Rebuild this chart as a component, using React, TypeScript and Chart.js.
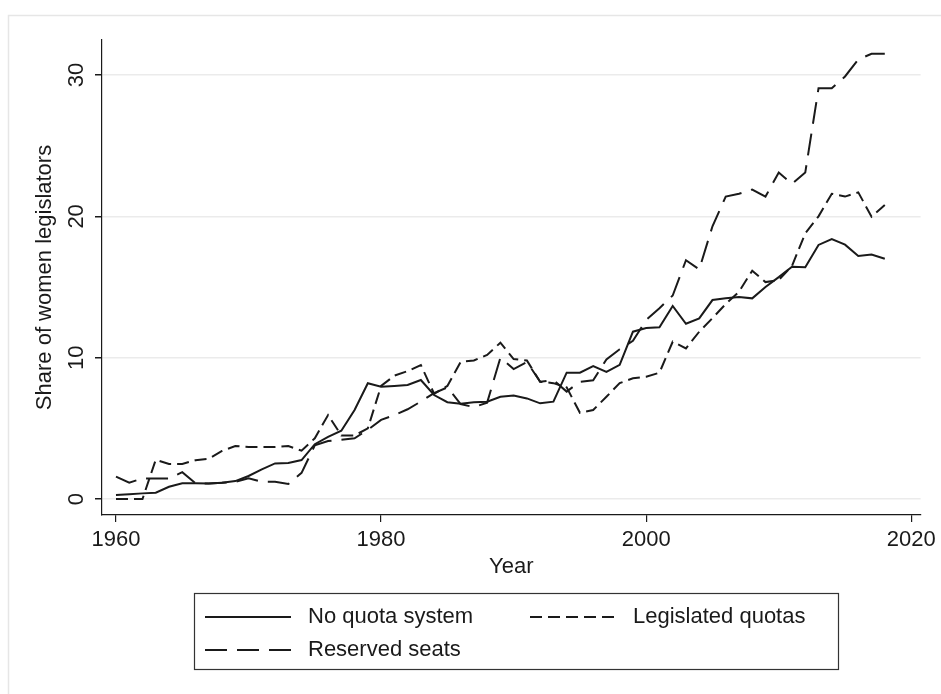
import React, { useEffect, useRef } from "react";
import { Chart, registerables } from "chart.js";

Chart.register(...registerables);

// Year of observation
const years = [
  1960, 1961, 1962, 1963, 1964, 1965, 1966, 1967, 1968, 1969,
  1970, 1971, 1972, 1973, 1974, 1975, 1976, 1977, 1978, 1979,
  1980, 1981, 1982, 1983, 1984, 1985, 1986, 1987, 1988, 1989,
  1990, 1991, 1992, 1993, 1994, 1995, 1996, 1997, 1998, 1999,
  2000, 2001, 2002, 2003, 2004, 2005, 2006, 2007, 2008, 2009,
  2010, 2011, 2012, 2013, 2014, 2015, 2016, 2017, 2018,
];

// Average share of women legislators (%) by quota regime
const noQuota = [
  0.28, 0.33, 0.4, 0.45, 0.87, 1.12, 1.12, 1.1, 1.15, 1.27,
  1.63, 2.1, 2.52, 2.55, 2.76, 3.88, 4.4, 4.83, 6.3, 8.19,
  7.95, 8.0, 8.07, 8.42, 7.36, 6.85, 6.75, 6.84, 6.88, 7.24,
  7.33, 7.12, 6.77, 6.89, 8.94, 8.94, 9.41, 9.0, 9.5, 11.84,
  12.1, 12.15, 13.66, 12.4, 12.78, 14.08, 14.2, 14.3, 14.2, 15.0,
  15.7, 16.44, 16.4, 17.98, 18.4, 18.0, 17.2, 17.3, 17.0,
];

const legislated = [
  0, 0, 0, 2.78, 2.48, 2.48, 2.75, 2.85, 3.4, 3.75,
  3.68, 3.68, 3.68, 3.75, 3.42, 4.3, 5.94, 4.5, 4.5, 5.0,
  8.0, 8.73, 9.05, 9.48, 7.45, 8.0, 9.7, 9.8, 10.2, 11.06,
  9.9, 9.8, 8.3, 8.2, 7.9, 6.1, 6.3, 7.24, 8.2, 8.54,
  8.65, 8.94, 11.13, 10.66, 11.84, 12.8, 13.8, 14.67, 16.16, 15.35,
  15.5, 16.5, 18.8, 20.0, 21.6, 21.4, 21.7, 19.98, 20.8,
];

const reserved = [
  1.58, 1.16, 1.46, 1.46, 1.46, 1.9, 1.12, 1.1, 1.15, 1.22,
  1.46, 1.23, 1.23, 1.06, 1.85, 3.8, 4.1, 4.2, 4.3, 4.9,
  5.6, 5.94, 6.35, 6.9, 7.5, 7.9, 6.72, 6.5, 6.82, 10.0,
  9.2, 9.7, 8.3, 8.42, 7.6, 8.3, 8.4, 9.88, 10.6, 11.2,
  12.67, 13.5, 14.4, 16.9, 16.25, 19.3, 21.4, 21.6, 21.9, 21.4,
  23.1, 22.3, 23.1, 29.06, 29.06, 29.9, 31.1, 31.5, 31.5,
];

const seriesLabels = ["No quota system", "Legislated quotas", "Reserved seats"];
const xTickValues = [1960, 1980, 2000, 2020];
const yTickValues = [0, 10, 20, 30];
const xTitle = "Year";
const yTitle = "Share of women legislators";

const FONT = "'Liberation Sans', Arial, Helvetica, sans-serif";
const FONT_SIZE = 22;
const INK = "#1a1a1a";
const GRID = "#ebebeb";

export default function App() {
  const canvasRef = useRef<HTMLCanvasElement>(null);

  useEffect(() => {
    document.body.style.margin = "0";
    const canvas = canvasRef.current;
    if (!canvas) return;

    const points = (vals: number[]) => years.map((x, i) => ({ x, y: vals[i] }));

    // white page with a faint outer frame
    const framePlugin = {
      id: "frame",
      beforeDraw(chart: any) {
        const { ctx, width, height } = chart;
        ctx.save();
        ctx.fillStyle = "#ffffff";
        ctx.fillRect(0, 0, width, height);
        ctx.strokeStyle = "#e6e6e6";
        ctx.lineWidth = 1.5;
        ctx.strokeRect(8.5, 15.5, width + 20, height + 20);
        ctx.restore();
      },
    };

    // rotated y tick labels, axis titles and the boxed legend
    const decorPlugin = {
      id: "decor",
      afterDraw(chart: any) {
        const { ctx, chartArea } = chart;
        const yScale = chart.scales.y;
        ctx.save();
        ctx.fillStyle = INK;
        ctx.font = `${FONT_SIZE}px ${FONT}`;
        ctx.textAlign = "center";
        ctx.textBaseline = "middle";

        for (const v of yTickValues) {
          const py = yScale.getPixelForValue(v);
          ctx.save();
          ctx.translate(chartArea.left - 25, py);
          ctx.rotate(-Math.PI / 2);
          ctx.fillText(String(v), 0, 0);
          ctx.restore();
        }

        ctx.save();
        ctx.translate(45, (chartArea.top + chartArea.bottom) / 2);
        ctx.rotate(-Math.PI / 2);
        ctx.fillText(yTitle, 0, 0);
        ctx.restore();

        ctx.fillText(xTitle, (chartArea.left + chartArea.right) / 2, 567);

        // legend
        ctx.strokeStyle = "#333333";
        ctx.lineWidth = 1.2;
        ctx.strokeRect(194.5, 593.5, 644, 76);
        const entries = [
          { ds: 0, x0: 205, x1: 291, tx: 308, y: 617 },
          { ds: 1, x0: 530, x1: 614, tx: 633, y: 617 },
          { ds: 2, x0: 205, x1: 291, tx: 308, y: 650 },
        ];
        ctx.textAlign = "left";
        for (const e of entries) {
          const ds = chart.data.datasets[e.ds];
          ctx.save();
          ctx.strokeStyle = ds.borderColor;
          ctx.lineWidth = ds.borderWidth;
          ctx.setLineDash(ds.borderDash || []);
          ctx.beginPath();
          ctx.moveTo(e.x0, e.y);
          ctx.lineTo(e.x1, e.y);
          ctx.stroke();
          ctx.restore();
          ctx.fillText(ds.label, e.tx, e.y);
        }
        ctx.restore();
      },
    };

    const lineStyle = {
      borderColor: INK,
      borderWidth: 2,
      pointRadius: 0,
      pointHoverRadius: 0,
      tension: 0,
      fill: false,
    };

    const X_AXIS_BAND = 40;

    const chart = new Chart(canvas, {
      type: "line",
      data: {
        datasets: [
          { ...lineStyle, label: seriesLabels[0], data: points(noQuota), borderDash: [] },
          { ...lineStyle, label: seriesLabels[1], data: points(legislated), borderDash: [12, 6] },
          { ...lineStyle, label: seriesLabels[2], data: points(reserved), borderDash: [22, 10] },
        ],
      },
      options: {
        responsive: false,
        animation: false,
        devicePixelRatio: 1,
        layout: { padding: { left: 102, top: 40, right: 20, bottom: 694 - 515 - X_AXIS_BAND } },
        plugins: {
          legend: { display: false },
          tooltip: { enabled: false },
          title: { display: false },
        },
        scales: {
          x: {
            type: "linear",
            min: 1958.945,
            max: 2020.7,
            afterBuildTicks: (s: any) => {
              s.ticks = xTickValues.map((value) => ({ value }));
            },
            afterFit: (s: any) => {
              s.height = X_AXIS_BAND;
            },
            ticks: {
              color: INK,
              font: { family: FONT, size: FONT_SIZE },
              padding: 5,
              maxRotation: 0,
              minRotation: 0,
              autoSkip: false,
              callback: (v: any) => String(v),
            },
            grid: {
              drawOnChartArea: false,
              drawTicks: true,
              tickLength: 7,
              tickColor: INK,
              lineWidth: 1.2,
            },
            border: { display: true, color: INK, width: 1.2 },
          },
          y: {
            type: "linear",
            min: -1.13,
            max: 32.48,
            afterBuildTicks: (s: any) => {
              s.ticks = yTickValues.map((value) => ({ value }));
            },
            afterFit: (s: any) => {
              s.width = 0;
            },
            ticks: { display: false },
            grid: {
              drawOnChartArea: true,
              drawTicks: true,
              tickLength: 7,
              color: GRID,
              tickColor: INK,
              lineWidth: 1.5,
            },
            border: { display: true, color: INK, width: 1.2 },
          },
        },
      },
      plugins: [framePlugin, decorPlugin],
    } as any);

    return () => chart.destroy();
  }, []);

  return (
    <canvas
      ref={canvasRef}
      width={941}
      height={694}
      style={{ display: "block", width: 941, height: 694 }}
    />
  );
}
